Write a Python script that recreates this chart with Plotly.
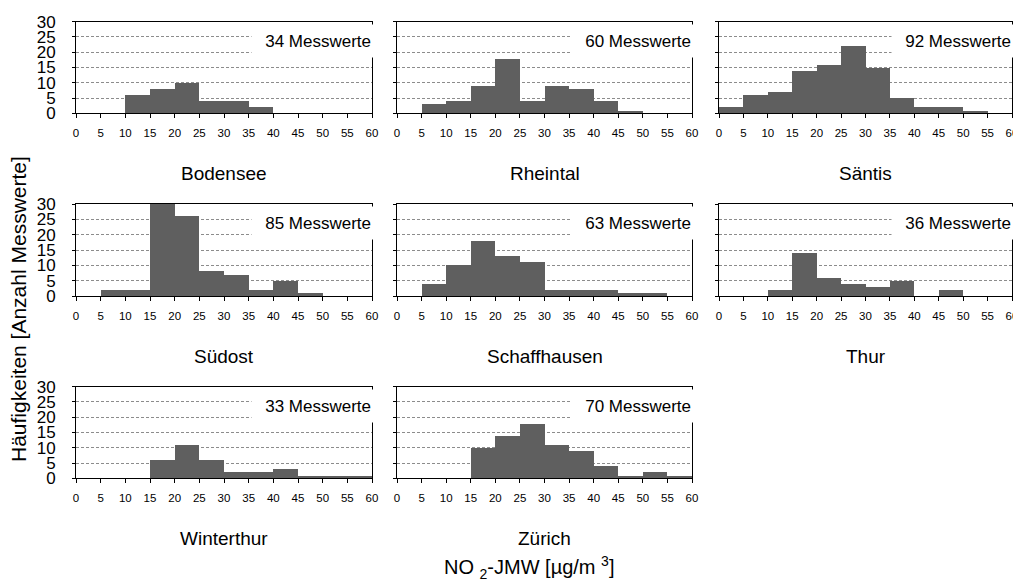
import plotly.graph_objects as go

# ---- data ----
bin_edges = [0, 5, 10, 15, 20, 25, 30, 35, 40, 45, 50, 55, 60]
stations = ["Bodensee", "Rheintal", "Säntis", "Südost", "Schaffhausen", "Thur", "Winterthur", "Zürich"]
bodensee = [0, 0, 6, 8, 10, 4, 4, 2, 0, 0, 0, 0]
rheintal = [0, 3, 4, 9, 18, 4, 9, 8, 4, 1, 0, 0]
saentis = [2, 6, 7, 14, 16, 22, 15, 5, 2, 2, 1, 0]
suedost = [0, 2, 2, 32, 26, 8, 7, 2, 5, 1, 0, 0]
schaffhausen = [0, 4, 10, 18, 13, 11, 2, 2, 2, 1, 1, 0]
thur = [0, 0, 2, 14, 6, 4, 3, 5, 0, 2, 0, 0]
winterthur = [0, 0, 0, 6, 11, 6, 2, 2, 3, 1, 1, 1]
zuerich = [0, 0, 0, 10, 14, 18, 11, 9, 4, 1, 2, 1]
counts = [bodensee, rheintal, saentis, suedost, schaffhausen, thur, winterthur, zuerich]
n_values = [34, 60, 92, 85, 63, 36, 33, 70]
y_ticks = [0, 5, 10, 15, 20, 25, 30]

# ---- layout geometry (pixels in the 1021x581 window) ----
OFF = 8  # default page body margin
W, H = 1021 - OFF, 581 - OFF
col_px = [(76, 372), (397, 692), (719, 1012)]
row_px = [(21.7, 113.3), (204, 296), (386.7, 478.3)]
FONT = "Liberation Sans, Arial, Helvetica, sans-serif"
BAR = "#5f5f5f"


def px(v):
    return (v - OFF) / W


def py(v):
    return 1 - (v - OFF) / H


centers = [(bin_edges[i] + bin_edges[i + 1]) / 2 for i in range(len(bin_edges) - 1)]
widths = [bin_edges[i + 1] - bin_edges[i] for i in range(len(bin_edges) - 1)]

fig = go.Figure()
layout = dict(
    width=W, height=H, margin=dict(l=0, r=0, t=0, b=0, autoexpand=False),
    paper_bgcolor="white", plot_bgcolor="white",
    showlegend=False, bargap=0,
    font=dict(family=FONT, color="black"),
)
annotations = []

for i, (name, vals) in enumerate(zip(stations, counts)):
    r, c = divmod(i, 3)
    sfx = "" if i == 0 else str(i + 1)
    x0, x1 = col_px[c]
    top, bot = row_px[r]
    fig.add_trace(go.Bar(
        x=centers, y=vals, width=widths,
        marker=dict(color=BAR, line=dict(width=0)),
        xaxis="x" + sfx, yaxis="y" + sfx, hoverinfo="skip",
    ))
    layout["xaxis" + sfx] = dict(
        domain=[px(x0), px(x1)], anchor="y" + sfx, range=[0, 60],
        tickmode="array", tickvals=bin_edges, ticks="outside", ticklen=4,
        tickcolor="black", showline=True, linecolor="black", linewidth=1,
        mirror=True, showgrid=False, zeroline=False, automargin=False,
        tickfont=dict(size=11.5, family=FONT), ticklabelstandoff=5,
        fixedrange=True,
    )
    layout["yaxis" + sfx] = dict(
        domain=[py(bot), py(top)], anchor="x" + sfx, range=[0, 30],
        tickmode="array", tickvals=y_ticks, ticks="outside", ticklen=3,
        tickcolor="black", showline=True, linecolor="black", linewidth=1,
        mirror=True, showgrid=True, gridcolor="#8c8c8c", gridwidth=1,
        griddash="3px,2px", zeroline=False, automargin=False,
        showticklabels=(c == 0),
        tickfont=dict(size=17, family=FONT), ticklabelstandoff=13,
        fixedrange=True,
    )
    # count label box
    annotations.append(dict(
        xref="x" + sfx + " domain", yref="y" + sfx + " domain",
        x=1 + 4 / (x1 - x0), y=23.7 / 30, xanchor="right", yanchor="middle",
        text=f"{n_values[i]} Messwerte", showarrow=False,
        width=115, height=24, borderpad=4, align="right", valign="middle",
        bgcolor="white", font=dict(size=17, family=FONT),
    ))
    # station name below panel
    annotations.append(dict(
        xref="paper", yref="paper",
        x=px((x0 + x1) / 2), y=py(bot + 60.2),
        xanchor="center", yanchor="middle",
        text=name, showarrow=False, font=dict(size=19, family=FONT),
    ))

annotations.append(dict(
    xref="paper", yref="paper", x=px(529), y=py(567),
    xanchor="center", yanchor="middle", showarrow=False,
    text="NO <sub>2</sub>-JMW [µg/m <sup>3</sup>]", font=dict(size=20, family=FONT),
))
annotations.append(dict(
    xref="paper", yref="paper", x=px(18), y=py(309),
    xanchor="center", yanchor="middle", showarrow=False, textangle=-90,
    text="Häufigkeiten [Anzahl Messwerte]", font=dict(size=21, family=FONT),
))
layout["annotations"] = annotations
fig.update_layout(**layout)
fig.write_html("out.html")
